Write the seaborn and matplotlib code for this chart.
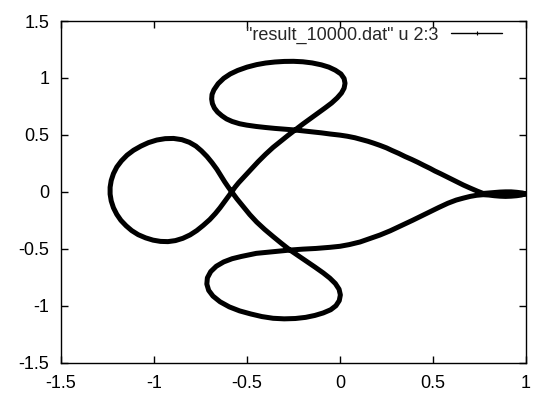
import matplotlib
matplotlib.use("Agg")
import matplotlib.pyplot as plt
from matplotlib.lines import Line2D
import pandas as pd
import seaborn as sns

# Orbit samples (column 2 vs column 3 of result_10000.dat), in path order:
# tail oval (upper side), upper branch, upper loop, left loop,
# lower loop, lower branch, tail oval (lower side)
orbit_x = [
    0.998, 0.98, 0.95, 0.92, 0.89, 0.86, 0.83, 0.80, 0.77,
    0.74, 0.70, 0.663, 0.63, 0.60, 0.57, 0.54, 0.51, 0.484, 0.45, 0.42,
    0.385, 0.35, 0.315, 0.28, 0.25, 0.215, 0.18, 0.15, 0.115, 0.08, 0.04,
    0.00, -0.054, -0.10, -0.15, -0.20, -0.242,
    -0.30, -0.35, -0.40, -0.45, -0.502, -0.54, -0.58, -0.61, -0.635, -0.658,
    -0.675, -0.686, -0.690, -0.688, -0.678, -0.655, -0.625, -0.59, -0.55,
    -0.50, -0.448, -0.40, -0.35, -0.30, -0.25, -0.20, -0.15, -0.10, -0.06,
    -0.025, 0.005, 0.022, 0.027, 0.022, 0.008, -0.015, -0.045, -0.08, -0.12,
    -0.16, -0.20, -0.242,
    -0.28, -0.32, -0.36, -0.40, -0.44, -0.48, -0.515, -0.545, -0.565, -0.582,
    -0.600, -0.622, -0.645, -0.670, -0.700, -0.735, -0.770, -0.806, -0.845,
    -0.885, -0.925, -0.965, -1.005, -1.045, -1.085, -1.120, -1.150, -1.178,
    -1.200, -1.218, -1.230, -1.236, -1.236, -1.230, -1.218, -1.200, -1.175,
    -1.145, -1.110, -1.070, -1.030, -0.985, -0.940, -0.895, -0.850, -0.810,
    -0.775, -0.745, -0.715, -0.688, -0.662, -0.640, -0.620, -0.600, -0.582,
    -0.555, -0.52, -0.485, -0.448, -0.405, -0.36, -0.315, -0.269, -0.225,
    -0.18, -0.135, -0.09, -0.055, -0.025, -0.005, 0.002, -0.004, -0.022,
    -0.05, -0.09, -0.135, -0.185, -0.24, -0.30, -0.36, -0.42, -0.48, -0.54,
    -0.595, -0.645, -0.683, -0.706, -0.716, -0.713, -0.695, -0.665, -0.625,
    -0.580, -0.530, -0.45, -0.36, -0.269,
    -0.20, -0.13, -0.054, 0.00, 0.05, 0.108, 0.16, 0.215, 0.27, 0.33, 0.39,
    0.44, 0.484, 0.53, 0.58, 0.625, 0.663, 0.70, 0.735, 0.77,
    0.80, 0.83, 0.86, 0.89, 0.92, 0.95, 0.975, 0.998,
]
orbit_y = [
    -0.018, -0.010, -0.004, 0.000, 0.000, -0.002, -0.006, -0.010, -0.014,
    0.005, 0.033, 0.060, 0.087, 0.112, 0.137, 0.160, 0.183, 0.206, 0.233, 0.258,
    0.285, 0.310, 0.338, 0.363, 0.386, 0.408, 0.428, 0.444, 0.460, 0.475, 0.488,
    0.498, 0.508, 0.518, 0.527, 0.536, 0.543,
    0.550, 0.557, 0.565, 0.574, 0.586, 0.598, 0.618, 0.640, 0.668, 0.700,
    0.735, 0.775, 0.815, 0.855, 0.895, 0.950, 0.997, 1.035, 1.066,
    1.095, 1.117, 1.131, 1.140, 1.145, 1.146, 1.142, 1.132, 1.115, 1.095,
    1.068, 1.035, 0.995, 0.953, 0.910, 0.868, 0.825, 0.780, 0.737, 0.690,
    0.643, 0.595, 0.543,
    0.495, 0.443, 0.390, 0.330, 0.265, 0.195, 0.135, 0.080, 0.040, 0.000,
    -0.040, -0.090, -0.140, -0.190, -0.243, -0.294, -0.340, -0.378, -0.408,
    -0.428, -0.437, -0.435, -0.424, -0.404, -0.376, -0.340, -0.298, -0.250,
    -0.198, -0.140, -0.080, -0.020, 0.040, 0.100, 0.160, 0.218, 0.272,
    0.322, 0.365, 0.402, 0.432, 0.455, 0.467, 0.469, 0.458, 0.435,
    0.402, 0.360, 0.310, 0.256, 0.198, 0.140, 0.088, 0.040, 0.000,
    -0.060, -0.130, -0.200, -0.265, -0.330, -0.392, -0.452, -0.511, -0.560,
    -0.610, -0.660, -0.712, -0.757, -0.805, -0.855, -0.905, -0.955, -1.000,
    -1.035, -1.063, -1.085, -1.102, -1.112, -1.115, -1.110, -1.095, -1.072, -1.045,
    -1.010, -0.965, -0.915, -0.865, -0.810, -0.755, -0.700, -0.653, -0.615,
    -0.587, -0.567, -0.540, -0.526, -0.511,
    -0.503, -0.497, -0.487, -0.478, -0.463, -0.440, -0.410, -0.379, -0.342, -0.296, -0.250,
    -0.210, -0.175, -0.138, -0.100, -0.072, -0.055, -0.040, -0.030, -0.025,
    -0.028, -0.034, -0.038, -0.040, -0.038, -0.034, -0.028, -0.018,
]

x_ticks = [-1.5, -1.0, -0.5, 0.0, 0.5, 1.0]
x_tick_labels = ["-1.5", "-1", "-0.5", "0", "0.5", "1"]
y_ticks = [-1.5, -1.0, -0.5, 0.0, 0.5, 1.0, 1.5]
y_tick_labels = ["-1.5", "-1", "-0.5", "0", "0.5", "1", "1.5"]
series_label = '"result_10000.dat" u 2:3'

sns.set_style("ticks")
plt.rcParams["font.family"] = ["Liberation Sans", "DejaVu Sans"]

fig = plt.figure(figsize=(5.35, 3.93), dpi=100)
ax = fig.add_axes([61 / 535, 1 - 362.7 / 393, 465 / 535, 341.7 / 393])

orbit = pd.DataFrame({"x": orbit_x, "y": orbit_y})
sns.lineplot(data=orbit, x="x", y="y", sort=False, estimator=None,
             color="black", lw=3.6, ax=ax,
             solid_joinstyle="round", solid_capstyle="round")

ax.set_xlim(-1.5, 1.0)
ax.set_ylim(-1.5, 1.5)
ax.set_xticks(x_ticks)
ax.set_xticklabels(x_tick_labels)
ax.set_yticks(y_ticks)
ax.set_yticklabels(y_tick_labels)
ax.set_xlabel("")
ax.set_ylabel("")
ax.tick_params(direction="in", length=5, width=1, color="black",
               labelcolor="black", labelsize=13, top=True, right=True)
ax.tick_params(axis="x", pad=9)
ax.tick_params(axis="y", pad=8.5)
for side in ("left", "right", "top", "bottom"):
    ax.spines[side].set_visible(True)
    ax.spines[side].set_color("black")
    ax.spines[side].set_linewidth(1)

key = Line2D([], [], color="black", lw=1, marker="+", markersize=3,
             markeredgewidth=0.8)
ax.legend([key], [series_label], loc="center right",
          bbox_to_anchor=(0.948, 0.959), frameon=False, markerfirst=False,
          handlelength=2.8, handletextpad=0.72, borderpad=0, borderaxespad=0,
          fontsize=13)

fig.savefig("out.png", dpi=100)
